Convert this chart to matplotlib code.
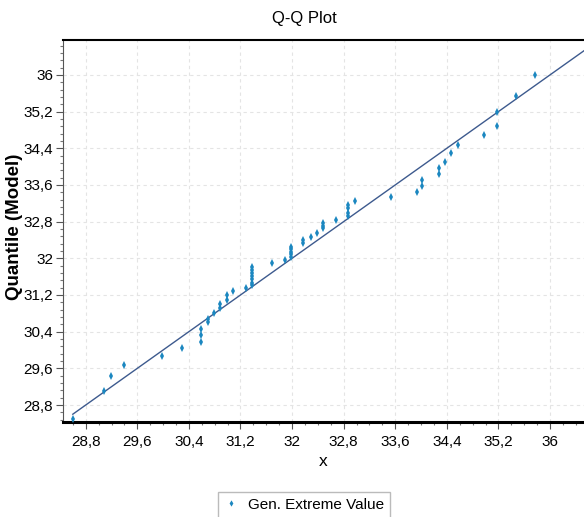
import matplotlib
matplotlib.use('Agg')
import matplotlib.pyplot as plt
from matplotlib.ticker import MultipleLocator, AutoMinorLocator, FuncFormatter

plt.rcParams['font.family'] = ['Liberation Sans', 'DejaVu Sans']

# observed values (x) against fitted GEV quantiles (model)
x_obs = [28.61, 29.09, 29.19, 29.39, 29.99, 30.29,
         30.59, 30.59, 30.59, 30.69, 30.69, 30.79,
         30.89, 30.89, 30.99, 30.99, 31.09, 31.29,
         31.38, 31.38, 31.38, 31.38, 31.38, 31.38, 31.38,
         31.69, 31.89,
         31.98, 31.98, 31.98, 31.98, 31.98,
         32.17, 32.17, 32.29, 32.38,
         32.48, 32.48, 32.48, 32.68,
         32.86, 32.86, 32.86, 32.86, 32.97,
         33.54, 33.94, 34.02, 34.02, 34.28, 34.28,
         34.37, 34.47, 34.58, 34.97, 35.17, 35.17,
         35.47, 35.77]
q_model = [28.50, 29.10, 29.43, 29.68, 29.88, 30.04,
           30.18, 30.33, 30.46, 30.60, 30.68, 30.80,
           30.91, 31.00, 31.09, 31.19, 31.29, 31.36,
           31.42, 31.47, 31.54, 31.62, 31.68, 31.74, 31.80,
           31.89, 31.96,
           32.03, 32.09, 32.14, 32.20, 32.25,
           32.33, 32.40, 32.47, 32.56,
           32.66, 32.71, 32.76, 32.84,
           32.92, 32.99, 33.09, 33.16, 33.25,
           33.34, 33.45, 33.58, 33.71, 33.83, 33.96,
           34.11, 34.29, 34.47, 34.68, 34.89, 35.19,
           35.53, 35.99]
ref_line = [28.6, 37.0]

series_name = 'Gen. Extreme Value'

fig = plt.figure(figsize=(5.84, 5.17), dpi=100)
ax = fig.add_axes([63 / 584, 1 - 422 / 517, 1 - 63 / 584, (422 - 40) / 517])

ax.plot(ref_line, ref_line, color='#3d5a8e', lw=1.0, zorder=2)
ax.plot(x_obs, q_model, ls='none', marker='d', ms=4.0, mew=0,
        color='#1b87c0', label=series_name, zorder=3)

ax.set_xlim(28.448, 36.526)
ax.set_ylim(28.43, 36.76)

comma = FuncFormatter(lambda v, p: ('%g' % round(v, 2)).replace('.', ','))
ax.xaxis.set_major_locator(MultipleLocator(0.8))
ax.yaxis.set_major_locator(MultipleLocator(0.8))
ax.xaxis.set_major_formatter(comma)
ax.yaxis.set_major_formatter(comma)
ax.xaxis.set_minor_locator(AutoMinorLocator(4))
ax.yaxis.set_minor_locator(AutoMinorLocator(5))

ax.tick_params(axis='both', which='major', labelsize=11, length=5,
               width=0.8, color='#555555', pad=2)
ax.tick_params(axis='x', which='major', pad=4)
ax.tick_params(axis='both', which='minor', length=2.5, width=0.8,
               color='#777777')

ax.grid(True, which='major', ls=(0, (3, 3)), color='#e4e4e4', lw=0.8)
ax.set_axisbelow(True)

ax.spines['right'].set_visible(False)
ax.spines['top'].set_linewidth(1.5)
ax.spines['bottom'].set_linewidth(2.2)
ax.spines['left'].set_linewidth(0.8)
ax.spines['left'].set_color('#555555')

ax.set_xlabel('x', fontsize=12.5, labelpad=4)
ax.set_ylabel('Quantile (Model)', fontsize=13.5, fontweight='bold')
ax.yaxis.set_label_coords((23 - 63) / 521, 0.51)

fig.text(304 / 584, 1 - 18 / 517, 'Q-Q Plot', ha='center', va='center',
         fontsize=12)

fig.legend(loc='upper center', bbox_to_anchor=(304 / 584, 1 - 484 / 517),
           fontsize=11, frameon=True, fancybox=False, edgecolor='#aaaaaa',
           handlelength=1.0, handletextpad=0.6, borderpad=0.4, markerscale=0.8)

fig.savefig('out.png', dpi=100)
